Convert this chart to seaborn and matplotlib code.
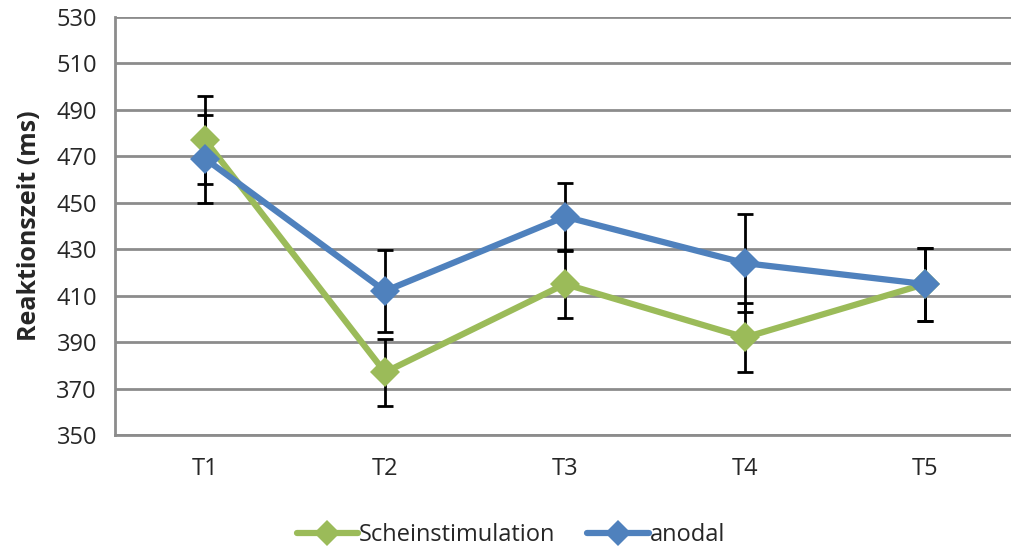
import pandas as pd
import seaborn as sns
import matplotlib.pyplot as plt

# data
zeitpunkte = ['T1', 'T2', 'T3', 'T4', 'T5']
schein = [477, 377, 415, 392, 415]
schein_err = [19, 14.5, 14.6, 14.9, 15.7]
anodal = [469, 412, 444, 424, 415]
anodal_err = [19, 17.5, 14.7, 21, 15.7]

green = '#9BBB59'
blue = '#4F81BD'
grid_grey = '#8C8C8C'


def main():
    sns.set_style('white')
    plt.rcParams['font.family'] = ['Open Sans', 'DejaVu Sans']

    df = pd.DataFrame({
        'zeit': zeitpunkte * 2,
        'rt': schein + anodal,
        'gruppe': ['Scheinstimulation'] * 5 + ['anodal'] * 5,
    })
    df['x'] = list(range(5)) * 2

    fig = plt.figure(figsize=(10.11, 5.52), dpi=100)
    ax = fig.add_axes([115 / 1011, 1 - 435 / 552, 900 / 1011, 418 / 552])

    # error bars below the lines
    for vals, errs in [(schein, schein_err), (anodal, anodal_err)]:
        ax.errorbar(range(5), vals, yerr=errs, fmt='none', ecolor='black',
                    elinewidth=2, capsize=6, capthick=2, zorder=2.5)

    sns.lineplot(data=df, x='x', y='rt', hue='gruppe', palette=[green, blue],
                 marker='D', markersize=15, markeredgewidth=0, linewidth=4.5,
                 ax=ax, zorder=3, legend=False)

    ax.set_xlim(-0.5, 4.5)
    ax.set_ylim(350, 530)
    ax.set_yticks(range(350, 531, 20))
    ax.set_xticks(range(5))
    ax.set_xticklabels(zeitpunkte)
    ax.set_xticks([i + 0.5 for i in range(-1, 5)], minor=True)
    ax.tick_params(axis='x', which='major', length=0, pad=16, labelsize=17)
    ax.tick_params(axis='x', which='minor', length=8, width=2, color=grid_grey)
    ax.tick_params(axis='y', length=9, width=2, color=grid_grey, pad=4, labelsize=17)
    ax.yaxis.grid(True, color=grid_grey, linewidth=2)
    ax.set_axisbelow(True)

    for side in ['top', 'right']:
        ax.spines[side].set_visible(False)
    for side in ['left', 'bottom']:
        ax.spines[side].set_color(grid_grey)
        ax.spines[side].set_linewidth(2)

    ax.set_xlabel('')
    ax.set_ylabel('Reaktionszeit (ms)', fontsize=18, fontweight='bold', labelpad=10)

    handles = [plt.Line2D([], [], color=c, linewidth=4.5, marker='D', markersize=13,
                          markeredgewidth=0) for c in [green, blue]]
    fig.legend(handles, ['Scheinstimulation', 'anodal'], loc='center',
               bbox_to_anchor=(511 / 1011, 1 - 535 / 552), ncol=2, frameon=False,
               fontsize=17, handlelength=2.6, handletextpad=0.05, columnspacing=1.35)

    fig.savefig('out.png', dpi=100)
    plt.close('all')


if __name__ == '__main__':
    main()
